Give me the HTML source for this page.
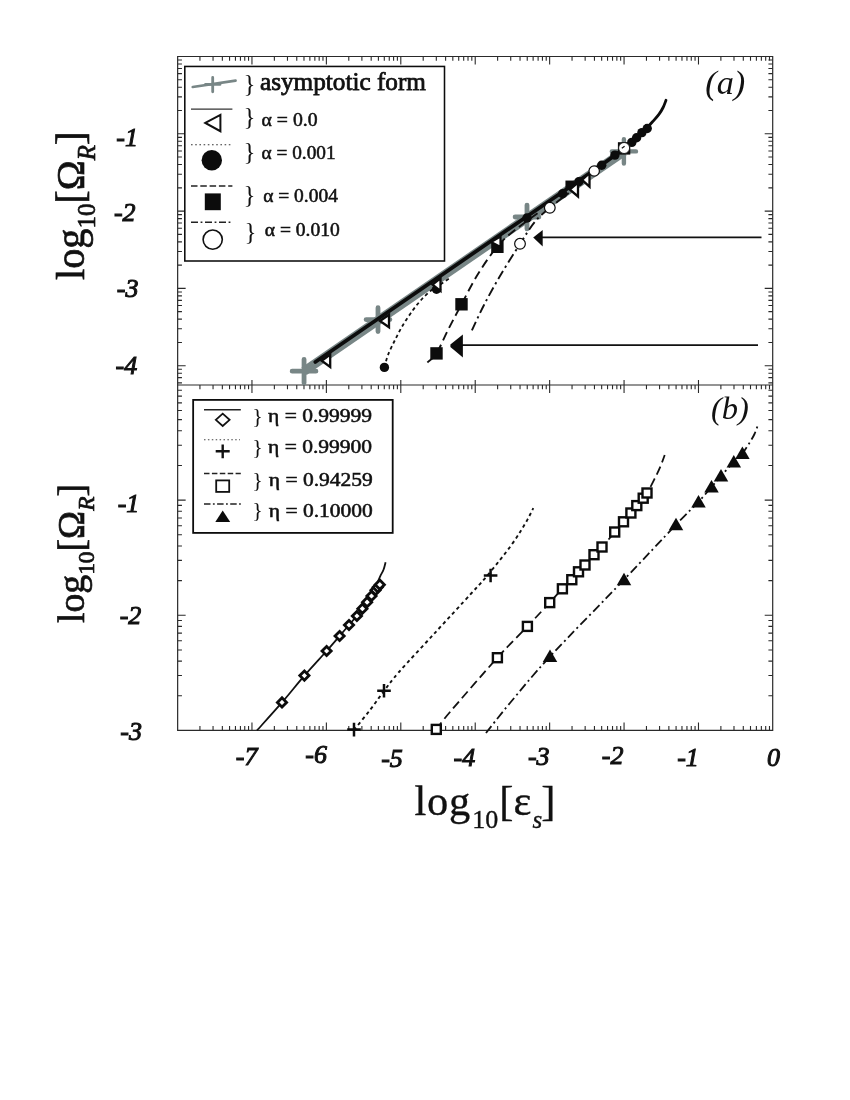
<!DOCTYPE html>
<html><head><meta charset="utf-8"><title>Figure</title>
<style>
html,body{margin:0;padding:0;background:#fff;}
body{width:850px;height:1100px;overflow:hidden;}
svg{display:block;}
svg text{filter:grayscale(1);}
svg text{font-family:"Liberation Serif",serif;fill:#111;}
</style></head><body>
<svg width="850" height="1100" viewBox="0 0 850 1100">
<rect x="0" y="0" width="850" height="1100" fill="#fff"/>
<path d="M199.94,56.50V60.80M199.94,385.00V389.30M199.94,730.40V726.10M213.05,56.50V60.80M213.05,385.00V389.30M213.05,730.40V726.10M222.35,56.50V60.80M222.35,385.00V389.30M222.35,730.40V726.10M229.56,56.50V60.80M229.56,385.00V389.30M229.56,730.40V726.10M235.45,56.50V60.80M235.45,385.00V389.30M235.45,730.40V726.10M240.43,56.50V60.80M240.43,385.00V389.30M240.43,730.40V726.10M244.75,56.50V60.80M244.75,385.00V389.30M244.75,730.40V726.10M248.55,56.50V60.80M248.55,385.00V389.30M248.55,730.40V726.10M251.96,56.50V64.50M251.96,380.00V393.00M251.96,730.40V722.40M274.36,56.50V60.80M274.36,385.00V389.30M274.36,730.40V726.10M287.47,56.50V60.80M287.47,385.00V389.30M287.47,730.40V726.10M296.77,56.50V60.80M296.77,385.00V389.30M296.77,730.40V726.10M303.98,56.50V60.80M303.98,385.00V389.30M303.98,730.40V726.10M309.87,56.50V60.80M309.87,385.00V389.30M309.87,730.40V726.10M314.85,56.50V60.80M314.85,385.00V389.30M314.85,730.40V726.10M319.17,56.50V60.80M319.17,385.00V389.30M319.17,730.40V726.10M322.97,56.50V60.80M322.97,385.00V389.30M322.97,730.40V726.10M326.38,56.50V64.50M326.38,380.00V393.00M326.38,730.40V722.40M348.78,56.50V60.80M348.78,385.00V389.30M348.78,730.40V726.10M361.89,56.50V60.80M361.89,385.00V389.30M361.89,730.40V726.10M371.19,56.50V60.80M371.19,385.00V389.30M371.19,730.40V726.10M378.40,56.50V60.80M378.40,385.00V389.30M378.40,730.40V726.10M384.29,56.50V60.80M384.29,385.00V389.30M384.29,730.40V726.10M389.27,56.50V60.80M389.27,385.00V389.30M389.27,730.40V726.10M393.59,56.50V60.80M393.59,385.00V389.30M393.59,730.40V726.10M397.39,56.50V60.80M397.39,385.00V389.30M397.39,730.40V726.10M400.80,56.50V64.50M400.80,380.00V393.00M400.80,730.40V722.40M423.20,56.50V60.80M423.20,385.00V389.30M423.20,730.40V726.10M436.31,56.50V60.80M436.31,385.00V389.30M436.31,730.40V726.10M445.61,56.50V60.80M445.61,385.00V389.30M445.61,730.40V726.10M452.82,56.50V60.80M452.82,385.00V389.30M452.82,730.40V726.10M458.71,56.50V60.80M458.71,385.00V389.30M458.71,730.40V726.10M463.69,56.50V60.80M463.69,385.00V389.30M463.69,730.40V726.10M468.01,56.50V60.80M468.01,385.00V389.30M468.01,730.40V726.10M471.81,56.50V60.80M471.81,385.00V389.30M471.81,730.40V726.10M475.22,56.50V64.50M475.22,380.00V393.00M475.22,730.40V722.40M497.62,56.50V60.80M497.62,385.00V389.30M497.62,730.40V726.10M510.73,56.50V60.80M510.73,385.00V389.30M510.73,730.40V726.10M520.03,56.50V60.80M520.03,385.00V389.30M520.03,730.40V726.10M527.24,56.50V60.80M527.24,385.00V389.30M527.24,730.40V726.10M533.13,56.50V60.80M533.13,385.00V389.30M533.13,730.40V726.10M538.11,56.50V60.80M538.11,385.00V389.30M538.11,730.40V726.10M542.43,56.50V60.80M542.43,385.00V389.30M542.43,730.40V726.10M546.23,56.50V60.80M546.23,385.00V389.30M546.23,730.40V726.10M549.64,56.50V64.50M549.64,380.00V393.00M549.64,730.40V722.40M572.04,56.50V60.80M572.04,385.00V389.30M572.04,730.40V726.10M585.15,56.50V60.80M585.15,385.00V389.30M585.15,730.40V726.10M594.45,56.50V60.80M594.45,385.00V389.30M594.45,730.40V726.10M601.66,56.50V60.80M601.66,385.00V389.30M601.66,730.40V726.10M607.55,56.50V60.80M607.55,385.00V389.30M607.55,730.40V726.10M612.53,56.50V60.80M612.53,385.00V389.30M612.53,730.40V726.10M616.85,56.50V60.80M616.85,385.00V389.30M616.85,730.40V726.10M620.65,56.50V60.80M620.65,385.00V389.30M620.65,730.40V726.10M624.06,56.50V64.50M624.06,380.00V393.00M624.06,730.40V722.40M646.46,56.50V60.80M646.46,385.00V389.30M646.46,730.40V726.10M659.57,56.50V60.80M659.57,385.00V389.30M659.57,730.40V726.10M668.87,56.50V60.80M668.87,385.00V389.30M668.87,730.40V726.10M676.08,56.50V60.80M676.08,385.00V389.30M676.08,730.40V726.10M681.97,56.50V60.80M681.97,385.00V389.30M681.97,730.40V726.10M686.95,56.50V60.80M686.95,385.00V389.30M686.95,730.40V726.10M691.27,56.50V60.80M691.27,385.00V389.30M691.27,730.40V726.10M695.07,56.50V60.80M695.07,385.00V389.30M695.07,730.40V726.10M698.48,56.50V64.50M698.48,380.00V393.00M698.48,730.40V722.40M720.88,56.50V60.80M720.88,385.00V389.30M720.88,730.40V726.10M733.99,56.50V60.80M733.99,385.00V389.30M733.99,730.40V726.10M743.29,56.50V60.80M743.29,385.00V389.30M743.29,730.40V726.10M750.50,56.50V60.80M750.50,385.00V389.30M750.50,730.40V726.10M756.39,56.50V60.80M756.39,385.00V389.30M756.39,730.40V726.10M761.37,56.50V60.80M761.37,385.00V389.30M761.37,730.40V726.10M765.69,56.50V60.80M765.69,385.00V389.30M765.69,730.40V726.10M769.49,56.50V60.80M769.49,385.00V389.30M769.49,730.40V726.10M177.65,382.85H181.95M772.70,382.85H768.40M177.65,377.67H181.95M772.70,377.67H768.40M177.65,373.19H181.95M772.70,373.19H768.40M177.65,369.24H181.95M772.70,369.24H768.40M177.65,365.70H185.65M772.70,365.70H764.70M177.65,342.43H181.95M772.70,342.43H768.40M177.65,328.82H181.95M772.70,328.82H768.40M177.65,319.16H181.95M772.70,319.16H768.40M177.65,311.67H181.95M772.70,311.67H768.40M177.65,305.55H181.95M772.70,305.55H768.40M177.65,300.37H181.95M772.70,300.37H768.40M177.65,295.89H181.95M772.70,295.89H768.40M177.65,291.94H181.95M772.70,291.94H768.40M177.65,288.40H185.65M772.70,288.40H764.70M177.65,265.13H181.95M772.70,265.13H768.40M177.65,251.52H181.95M772.70,251.52H768.40M177.65,241.86H181.95M772.70,241.86H768.40M177.65,234.37H181.95M772.70,234.37H768.40M177.65,228.25H181.95M772.70,228.25H768.40M177.65,223.07H181.95M772.70,223.07H768.40M177.65,218.59H181.95M772.70,218.59H768.40M177.65,214.64H181.95M772.70,214.64H768.40M177.65,211.10H185.65M772.70,211.10H764.70M177.65,187.83H181.95M772.70,187.83H768.40M177.65,174.22H181.95M772.70,174.22H768.40M177.65,164.56H181.95M772.70,164.56H768.40M177.65,157.07H181.95M772.70,157.07H768.40M177.65,150.95H181.95M772.70,150.95H768.40M177.65,145.77H181.95M772.70,145.77H768.40M177.65,141.29H181.95M772.70,141.29H768.40M177.65,137.34H181.95M772.70,137.34H768.40M177.65,133.80H185.65M772.70,133.80H764.70M177.65,110.53H181.95M772.70,110.53H768.40M177.65,96.92H181.95M772.70,96.92H768.40M177.65,87.26H181.95M772.70,87.26H768.40M177.65,79.77H181.95M772.70,79.77H768.40M177.65,73.65H181.95M772.70,73.65H768.40M177.65,68.47H181.95M772.70,68.47H768.40M177.65,63.99H181.95M772.70,63.99H768.40M177.65,60.04H181.95M772.70,60.04H768.40M177.65,695.74H181.95M772.70,695.74H768.40M177.65,675.47H181.95M772.70,675.47H768.40M177.65,661.08H181.95M772.70,661.08H768.40M177.65,649.93H181.95M772.70,649.93H768.40M177.65,640.81H181.95M772.70,640.81H768.40M177.65,633.10H181.95M772.70,633.10H768.40M177.65,626.42H181.95M772.70,626.42H768.40M177.65,620.53H181.95M772.70,620.53H768.40M177.65,615.27H185.65M772.70,615.27H764.70M177.65,580.61H181.95M772.70,580.61H768.40M177.65,560.33H181.95M772.70,560.33H768.40M177.65,545.95H181.95M772.70,545.95H768.40M177.65,534.79H181.95M772.70,534.79H768.40M177.65,525.68H181.95M772.70,525.68H768.40M177.65,517.97H181.95M772.70,517.97H768.40M177.65,511.29H181.95M772.70,511.29H768.40M177.65,505.40H181.95M772.70,505.40H768.40M177.65,500.13H185.65M772.70,500.13H764.70M177.65,465.47H181.95M772.70,465.47H768.40M177.65,445.20H181.95M772.70,445.20H768.40M177.65,430.82H181.95M772.70,430.82H768.40M177.65,419.66H181.95M772.70,419.66H768.40M177.65,410.54H181.95M772.70,410.54H768.40M177.65,402.83H181.95M772.70,402.83H768.40M177.65,396.16H181.95M772.70,396.16H768.40M177.65,390.27H181.95M772.70,390.27H768.40" stroke="#2a2a2a" stroke-width="1.1" fill="none"/>
<path d="M177.65,56.50H772.70V730.40H177.65Z M177.65,385.00H772.70" stroke="#2a2a2a" stroke-width="1.2" fill="none"/>
<path d="M304.05,371.20L623.90,151.64" stroke="#788686" stroke-width="9.2" fill="none"/>
<path d="M292.15,371.20H315.95M304.05,359.30V383.10" stroke="#788686" stroke-width="4.8" stroke-linecap="round" fill="none"/>
<path d="M366.10,319.60H389.90M378.00,307.70V331.50" stroke="#788686" stroke-width="4.8" stroke-linecap="round" fill="none"/>
<path d="M515.10,217.00H538.90M527.00,205.10V228.90" stroke="#788686" stroke-width="4.8" stroke-linecap="round" fill="none"/>
<path d="M611.80,151.40H636.00M623.90,139.30V163.50" stroke="#788686" stroke-width="4.4" stroke-linecap="round" fill="none"/>
<path d="M384.50,367.50 C385.08,365.42 386.25,359.58 388.00,355.00 C389.75,350.42 392.50,345.00 395.00,340.00 C397.50,335.00 400.00,330.00 403.00,325.00 C406.00,320.00 409.83,314.33 413.00,310.00 C416.17,305.67 419.00,302.25 422.00,299.00 C425.00,295.75 428.58,292.50 431.00,290.50 C433.42,288.50 433.33,289.08 436.50,287.00 C439.67,284.92 447.75,279.50 450.00,278.00" stroke="#111" stroke-width="1.8" stroke-dasharray="3.4,3.0" fill="none"/>
<path d="M427.40,362.50 C428.92,360.98 433.07,358.82 436.50,353.40 C439.93,347.98 443.83,338.18 448.00,330.00 C452.17,321.82 456.50,313.63 461.50,304.30 C466.50,294.97 472.02,283.65 478.00,274.00 C483.98,264.35 491.23,253.73 497.40,246.40 C503.57,239.07 507.90,235.82 515.00,230.00 C522.10,224.18 535.83,214.58 540.00,211.50" stroke="#111" stroke-width="1.9" stroke-dasharray="9,4.8" fill="none"/>
<path d="M471.90,330.40 C473.92,326.17 479.32,314.07 484.00,305.00 C488.68,295.93 494.00,286.18 500.00,276.00 C506.00,265.82 514.17,252.97 520.00,243.90 C525.83,234.83 530.07,227.58 535.00,221.60 C539.93,215.62 543.77,212.93 549.60,208.00 C555.43,203.07 566.60,194.67 570.00,192.00" stroke="#111" stroke-width="1.9" stroke-dasharray="9.5,3.8,2.2,3.8" fill="none"/>
<path d="M315.30,361.96 L601.70,164.92 L601.70,164.92 C603.90,163.31 611.17,158.09 614.90,155.30 C618.63,152.51 621.28,150.42 624.10,148.20 C626.92,145.98 629.72,143.72 631.80,142.00 C633.88,140.28 634.92,139.40 636.60,137.90 C638.28,136.40 640.13,134.72 641.90,133.00 C643.67,131.28 646.32,128.50 647.20,127.60" stroke="#0c0c0c" stroke-width="3.7" stroke-linecap="round" fill="none"/>
<path d="M641.90,133.00 C642.78,132.10 645.43,129.47 647.20,127.60 C648.97,125.73 650.55,124.00 652.50,121.80 C654.45,119.60 657.13,116.78 658.90,114.40 C660.67,112.02 661.92,109.85 663.10,107.50 C664.28,105.15 665.52,101.50 666.00,100.30" stroke="#0c0c0c" stroke-width="2.8" stroke-linecap="round" fill="none"/>
<rect x="430.30" y="347.20" width="12.40" height="12.40" fill="#0c0c0c"/>
<rect x="455.30" y="298.10" width="12.40" height="12.40" fill="#0c0c0c"/>
<rect x="491.20" y="240.60" width="12.40" height="12.40" fill="#0c0c0c"/>
<rect x="565.45" y="180.55" width="8.50" height="8.50" fill="#0c0c0c"/>
<rect x="617.90" y="142.20" width="12.40" height="12.40" fill="#0c0c0c"/>
<circle cx="384.40" cy="367.40" r="4.70" fill="#0c0c0c"/>
<circle cx="436.50" cy="289.20" r="4.70" fill="#0c0c0c"/>
<circle cx="527.00" cy="218.00" r="4.70" fill="#0c0c0c"/>
<circle cx="562.70" cy="193.70" r="4.70" fill="#0c0c0c"/>
<circle cx="578.80" cy="181.70" r="4.70" fill="#0c0c0c"/>
<circle cx="601.70" cy="165.20" r="4.70" fill="#0c0c0c"/>
<circle cx="614.90" cy="155.10" r="4.70" fill="#0c0c0c"/>
<circle cx="631.80" cy="142.40" r="4.70" fill="#0c0c0c"/>
<circle cx="636.60" cy="137.70" r="4.70" fill="#0c0c0c"/>
<circle cx="641.90" cy="132.60" r="4.70" fill="#0c0c0c"/>
<circle cx="647.20" cy="128.50" r="4.70" fill="#0c0c0c"/>
<path d="M321.70,360.80L330.20,354.60L330.20,367.00Z" fill="#fff" stroke="#0c0c0c" stroke-width="2.3" stroke-linejoin="miter"/>
<path d="M380.00,321.00L389.00,314.70L389.00,327.30Z" fill="#fff" stroke="#0c0c0c" stroke-width="2.3" stroke-linejoin="miter"/>
<path d="M432.50,284.60L440.50,278.40L440.50,290.80Z" fill="#fff" stroke="#0c0c0c" stroke-width="2.3" stroke-linejoin="miter"/>
<path d="M491.00,242.00L500.50,236.50L500.50,247.00Z" fill="#fff" stroke="#0c0c0c" stroke-width="2.2"/>
<path d="M569.70,189.50L578.00,182.50L578.00,196.50Z" fill="#fff" stroke="#0c0c0c" stroke-width="2.3" stroke-linejoin="miter"/>
<path d="M582.00,179.90L589.50,173.10L589.50,186.70Z" fill="#fff" stroke="#0c0c0c" stroke-width="2.3" stroke-linejoin="miter"/>
<circle cx="520.00" cy="243.80" r="5.35" fill="#fff" stroke="#0c0c0c" stroke-width="1.2"/>
<circle cx="549.80" cy="207.80" r="5.35" fill="#fff" stroke="#0c0c0c" stroke-width="1.2"/>
<circle cx="594.20" cy="171.00" r="5.20" fill="#fff" stroke="#0c0c0c" stroke-width="1.2"/>
<circle cx="624.1" cy="148" r="5.5" fill="#fff" stroke="#0c0c0c" stroke-width="0.9"/>
<path d="M621.8,148.3L624.6,146.3" stroke="#0c0c0c" stroke-width="1.2"/>
<path d="M542,237.3H761.5" stroke="#111" stroke-width="1.8"/>
<path d="M533.2,237.6L542.7,230V246.5Z" fill="#0c0c0c"/>
<path d="M462,345.1H758" stroke="#111" stroke-width="1.9"/>
<path d="M450.4,344.6V347L462.9,357.5V334.6Z" fill="#0c0c0c"/>
<rect x="184.8" y="66.45" width="259.7" height="194.55" fill="#fff" stroke="#0c0c0c" stroke-width="1.55"/>
<path d="M192.7,87L235.6,80.6" stroke="#788686" stroke-width="2.6" stroke-linecap="round"/>
<path d="M212.7,77.5V91.8M205.5,84.4H220" stroke="#788686" stroke-width="2.8" stroke-linecap="round"/>
<path d="M191,109.2H232.4" stroke="#333" stroke-width="1.2"/>
<path d="M205.3,122.9L220.4,114.8V131.2Z" fill="none" stroke="#111" stroke-width="2"/>
<path d="M191,144.8H231.5" stroke="#333" stroke-width="1.1" stroke-dasharray="1.6,2.6"/>
<circle cx="211.8" cy="160.3" r="10.2" fill="#0c0c0c"/>
<path d="M191,186H232.4" stroke="#222" stroke-width="1.6" stroke-dasharray="6.5,2.8"/>
<rect x="204.8" y="193.4" width="16" height="16.8" fill="#0c0c0c"/>
<path d="M191,222.3H232.4" stroke="#222" stroke-width="1.6" stroke-dasharray="7,2.6,1.8,2.6"/>
<circle cx="212.7" cy="239.6" r="9.6" fill="#fff" stroke="#111" stroke-width="1.6"/>
<text x="243.50" y="92.00" font-size="25.00" text-anchor="start"  fill="#444">}</text>
<text x="260.00" y="90.40" font-size="24.30" text-anchor="start"  stroke="#111" stroke-width="0.75" textLength="166" lengthAdjust="spacingAndGlyphs">asymptotic form</text>
<text x="243.50" y="124.60" font-size="25.00" text-anchor="start"  fill="#444">}</text>
<text x="261.60" y="125.80" font-size="18.00" text-anchor="start"  textLength="56" lengthAdjust="spacingAndGlyphs" stroke="#111" stroke-width="0.5">α = 0.0</text>
<text x="243.50" y="160.00" font-size="25.00" text-anchor="start"  fill="#444">}</text>
<text x="261.60" y="158.80" font-size="18.00" text-anchor="start"  textLength="74" lengthAdjust="spacingAndGlyphs" stroke="#111" stroke-width="0.5">α = 0.001</text>
<text x="243.50" y="203.00" font-size="25.00" text-anchor="start"  fill="#444">}</text>
<text x="263.20" y="201.80" font-size="18.00" text-anchor="start"  textLength="74.7" lengthAdjust="spacingAndGlyphs" stroke="#111" stroke-width="0.5">α = 0.004</text>
<text x="244.50" y="239.50" font-size="25.00" text-anchor="start"  fill="#444">}</text>
<text x="264.80" y="236.20" font-size="18.00" text-anchor="start"  textLength="75" lengthAdjust="spacingAndGlyphs" stroke="#111" stroke-width="0.5">α = 0.010</text>
<text x="705.30" y="94.20" font-size="33.00" text-anchor="start" font-style="italic" textLength="40" lengthAdjust="spacingAndGlyphs">(a)</text>
<text x="711.00" y="418.80" font-size="32.50" text-anchor="start" font-style="italic" >(b)</text>
<path d="M257.00,730.40 C261.17,725.73 274.10,711.53 282.00,702.40 C289.90,693.27 296.97,684.17 304.40,675.60 C311.83,667.03 320.73,657.60 326.60,651.00 C332.47,644.40 335.87,640.33 339.60,636.00 C343.33,631.67 346.20,628.27 349.00,625.00 C351.80,621.73 354.23,619.07 356.40,616.40 C358.57,613.73 360.32,611.30 362.00,609.00 C363.68,606.70 365.08,604.70 366.50,602.60 C367.92,600.50 369.25,598.42 370.50,596.40 C371.75,594.38 373.03,592.23 374.00,590.50 C374.97,588.77 375.60,587.58 376.30,586.00 C377.00,584.42 377.50,582.73 378.20,581.00 C378.90,579.27 379.62,577.47 380.50,575.60 C381.38,573.73 382.65,572.03 383.50,569.80 C384.35,567.57 385.25,563.47 385.60,562.20" stroke="#111" stroke-width="1.8" fill="none"/>
<path d="M354.00,730.00 C356.67,726.67 365.00,716.50 370.00,710.00 C375.00,703.50 379.17,697.33 384.00,691.00 C388.83,684.67 390.50,681.70 399.00,672.00 C407.50,662.30 422.97,645.88 435.00,632.80 C447.03,619.72 463.02,602.40 471.20,593.50 C479.38,584.60 479.40,584.88 484.10,579.40 C488.80,573.92 494.88,566.28 499.40,560.60 C503.92,554.92 507.67,550.20 511.20,545.30 C514.73,540.40 517.87,535.52 520.60,531.20 C523.33,526.88 525.83,522.53 527.60,519.40 C529.37,516.27 530.25,514.27 531.20,512.40 C532.15,510.53 532.95,508.90 533.30,508.20" stroke="#111" stroke-width="1.9" stroke-dasharray="3.4,3.2" fill="none"/>
<path d="M436.30,729.40 C438.58,726.50 439.82,723.95 450.00,712.00 C460.18,700.05 484.50,671.97 497.40,657.70 C510.30,643.43 518.68,635.58 527.40,626.40 C536.12,617.22 543.87,608.87 549.70,602.60 C555.53,596.33 556.52,595.07 562.40,588.80 C568.28,582.53 578.40,571.97 585.00,565.00 C591.60,558.03 595.58,554.20 602.00,547.00 C608.42,539.80 617.70,528.70 623.50,521.80 C629.30,514.90 632.88,510.40 636.80,505.60 C640.72,500.80 643.80,497.93 647.00,493.00 C650.20,488.07 653.67,480.67 656.00,476.00 C658.33,471.33 659.55,468.50 661.00,465.00 C662.45,461.50 664.08,456.67 664.70,455.00" stroke="#111" stroke-width="1.8" stroke-dasharray="9,4.5" fill="none"/>
<path d="M486.00,733.00 C490.00,728.00 499.33,715.75 510.00,703.00 C520.67,690.25 531.00,677.05 550.00,656.50 C569.00,635.95 603.00,601.67 624.00,579.70 C645.00,557.73 663.58,537.68 676.00,524.70 C688.42,511.72 692.58,508.08 698.50,501.80 C704.42,495.52 707.75,491.30 711.50,487.00 C715.25,482.70 717.28,480.17 721.00,476.00 C724.72,471.83 730.23,465.75 733.80,462.00 C737.37,458.25 739.70,456.83 742.40,453.50 C745.10,450.17 747.98,445.25 750.00,442.00 C752.02,438.75 753.17,436.88 754.50,434.00 C755.83,431.12 757.42,426.25 758.00,424.70" stroke="#111" stroke-width="1.8" stroke-dasharray="9,3.5,2,3.5" fill="none"/>
<path d="M277.40,702.40L282.00,697.80L286.60,702.40L282.00,707.00Z" fill="#fff" stroke="#0c0c0c" stroke-width="2.8"/>
<path d="M299.80,675.60L304.40,671.00L309.00,675.60L304.40,680.20Z" fill="#fff" stroke="#0c0c0c" stroke-width="2.8"/>
<path d="M322.00,651.00L326.60,646.40L331.20,651.00L326.60,655.60Z" fill="#fff" stroke="#0c0c0c" stroke-width="2.8"/>
<path d="M335.00,636.00L339.60,631.40L344.20,636.00L339.60,640.60Z" fill="#fff" stroke="#0c0c0c" stroke-width="2.8"/>
<path d="M344.40,625.00L349.00,620.40L353.60,625.00L349.00,629.60Z" fill="#fff" stroke="#0c0c0c" stroke-width="2.8"/>
<path d="M352.30,616.00L356.90,611.40L361.50,616.00L356.90,620.60Z" fill="#fff" stroke="#0c0c0c" stroke-width="2.8"/>
<path d="M357.80,608.70L362.40,604.10L367.00,608.70L362.40,613.30Z" fill="#fff" stroke="#0c0c0c" stroke-width="2.8"/>
<path d="M362.50,602.20L367.10,597.60L371.70,602.20L367.10,606.80Z" fill="#fff" stroke="#0c0c0c" stroke-width="2.8"/>
<path d="M366.90,596.00L371.50,591.40L376.10,596.00L371.50,600.60Z" fill="#fff" stroke="#0c0c0c" stroke-width="2.8"/>
<path d="M370.90,590.20L375.50,585.60L380.10,590.20L375.50,594.80Z" fill="#fff" stroke="#0c0c0c" stroke-width="2.8"/>
<path d="M373.10,587.30L377.70,582.70L382.30,587.30L377.70,591.90Z" fill="#fff" stroke="#0c0c0c" stroke-width="2.8"/>
<path d="M375.20,584.70L379.80,580.10L384.40,584.70L379.80,589.30Z" fill="#fff" stroke="#0c0c0c" stroke-width="2.8"/>
<path d="M347.20,729.60H360.80M354.00,722.80V736.40" stroke="#0c0c0c" stroke-width="2.5" fill="none"/>
<path d="M377.20,690.80H390.80M384.00,684.00V697.60" stroke="#0c0c0c" stroke-width="2.5" fill="none"/>
<path d="M483.80,575.50H497.40M490.60,568.70V582.30" stroke="#0c0c0c" stroke-width="2.5" fill="none"/>
<rect x="431.80" y="724.90" width="9.00" height="9.00" fill="#fff" stroke="#0c0c0c" stroke-width="2.4"/>
<rect x="492.90" y="653.20" width="9.00" height="9.00" fill="#fff" stroke="#0c0c0c" stroke-width="2.4"/>
<rect x="522.90" y="621.90" width="9.00" height="9.00" fill="#fff" stroke="#0c0c0c" stroke-width="2.4"/>
<rect x="545.20" y="598.10" width="9.00" height="9.00" fill="#fff" stroke="#0c0c0c" stroke-width="2.4"/>
<rect x="557.90" y="584.30" width="9.00" height="9.00" fill="#fff" stroke="#0c0c0c" stroke-width="2.4"/>
<rect x="567.30" y="575.20" width="9.00" height="9.00" fill="#fff" stroke="#0c0c0c" stroke-width="2.4"/>
<rect x="574.00" y="567.30" width="9.00" height="9.00" fill="#fff" stroke="#0c0c0c" stroke-width="2.4"/>
<rect x="580.50" y="560.50" width="9.00" height="9.00" fill="#fff" stroke="#0c0c0c" stroke-width="2.4"/>
<rect x="589.50" y="550.20" width="9.00" height="9.00" fill="#fff" stroke="#0c0c0c" stroke-width="2.4"/>
<rect x="597.50" y="542.50" width="9.00" height="9.00" fill="#fff" stroke="#0c0c0c" stroke-width="2.4"/>
<rect x="610.20" y="527.50" width="9.00" height="9.00" fill="#fff" stroke="#0c0c0c" stroke-width="2.4"/>
<rect x="619.00" y="517.30" width="9.00" height="9.00" fill="#fff" stroke="#0c0c0c" stroke-width="2.4"/>
<rect x="626.40" y="508.50" width="9.00" height="9.00" fill="#fff" stroke="#0c0c0c" stroke-width="2.4"/>
<rect x="632.30" y="501.10" width="9.00" height="9.00" fill="#fff" stroke="#0c0c0c" stroke-width="2.4"/>
<rect x="638.70" y="493.70" width="9.00" height="9.00" fill="#fff" stroke="#0c0c0c" stroke-width="2.4"/>
<rect x="642.50" y="488.50" width="9.00" height="9.00" fill="#fff" stroke="#0c0c0c" stroke-width="2.4"/>
<path d="M550.00,649.62L557.25,662.12L542.75,662.12Z" fill="#0c0c0c"/>
<path d="M624.00,572.83L631.25,585.33L616.75,585.33Z" fill="#0c0c0c"/>
<path d="M676.00,517.83L683.25,530.33L668.75,530.33Z" fill="#0c0c0c"/>
<path d="M698.50,494.93L705.75,507.43L691.25,507.43Z" fill="#0c0c0c"/>
<path d="M711.50,480.12L718.75,492.62L704.25,492.62Z" fill="#0c0c0c"/>
<path d="M721.00,469.12L728.25,481.62L713.75,481.62Z" fill="#0c0c0c"/>
<path d="M733.80,455.12L741.05,467.62L726.55,467.62Z" fill="#0c0c0c"/>
<path d="M742.40,446.62L749.65,459.12L735.15,459.12Z" fill="#0c0c0c"/>
<rect x="193.15" y="399.9" width="199.55" height="133" fill="#fff" stroke="#0c0c0c" stroke-width="1.8"/>
<path d="M204,409.8H240.8" stroke="#222" stroke-width="1.5"/>
<path d="M215.8,419.8L222.7,413.6L229.6,419.8L222.7,426Z" fill="#fff" stroke="#111" stroke-width="1.8"/>
<path d="M204,439.7H240" stroke="#444" stroke-width="1.1" stroke-dasharray="1.5,2.4"/>
<path d="M215.7,451.3H229.7M222.7,444.5V458.2" stroke="#111" stroke-width="2.4"/>
<path d="M204,473.6H240.8" stroke="#222" stroke-width="1.5" stroke-dasharray="5.5,2.4"/>
<rect x="216.2" y="480.4" width="13" height="11.5" fill="#fff" stroke="#111" stroke-width="1.8"/>
<path d="M204,503.9H240.8" stroke="#222" stroke-width="1.5" stroke-dasharray="6.5,2.4,1.8,2.4"/>
<path d="M222.7,510.5L230.2,522H215.3Z" fill="#0c0c0c"/>
<text x="252.20" y="422.50" font-size="22.00" text-anchor="start"  fill="#444">}</text>
<text x="268.10" y="422.30" font-size="19.50" text-anchor="start"  textLength="104" lengthAdjust="spacingAndGlyphs" stroke="#111" stroke-width="0.55">η = 0.99999</text>
<text x="252.20" y="453.60" font-size="22.00" text-anchor="start"  fill="#444">}</text>
<text x="268.10" y="453.40" font-size="19.50" text-anchor="start"  textLength="104" lengthAdjust="spacingAndGlyphs" stroke="#111" stroke-width="0.55">η = 0.99900</text>
<text x="252.20" y="486.50" font-size="22.00" text-anchor="start"  fill="#444">}</text>
<text x="268.80" y="486.30" font-size="19.50" text-anchor="start"  textLength="104" lengthAdjust="spacingAndGlyphs" stroke="#111" stroke-width="0.55">η = 0.94259</text>
<text x="252.20" y="517.00" font-size="22.00" text-anchor="start"  fill="#444">}</text>
<text x="268.80" y="516.80" font-size="19.50" text-anchor="start"  textLength="104" lengthAdjust="spacingAndGlyphs" stroke="#111" stroke-width="0.55">η = 0.10000</text>
<text x="138.00" y="146.40" font-size="26.00" text-anchor="end" font-style="italic" stroke="#111" stroke-width="1.0">-1</text>
<text x="135.60" y="221.30" font-size="26.00" text-anchor="end" font-style="italic" stroke="#111" stroke-width="1.0">-2</text>
<text x="138.50" y="296.50" font-size="26.00" text-anchor="end" font-style="italic" stroke="#111" stroke-width="1.0">-3</text>
<text x="137.20" y="373.90" font-size="26.00" text-anchor="end" font-style="italic" stroke="#111" stroke-width="1.0">-4</text>
<text x="139.30" y="511.90" font-size="26.00" text-anchor="end" font-style="italic" stroke="#111" stroke-width="1.0">-1</text>
<text x="141.30" y="623.90" font-size="26.00" text-anchor="end" font-style="italic" stroke="#111" stroke-width="1.0">-2</text>
<text x="142.00" y="740.00" font-size="26.00" text-anchor="end" font-style="italic" stroke="#111" stroke-width="1.0">-3</text>
<text x="257.50" y="764.60" font-size="26.00" text-anchor="end" font-style="italic" stroke="#111" stroke-width="1.0">-7</text>
<text x="327.00" y="763.30" font-size="26.00" text-anchor="end" font-style="italic" stroke="#111" stroke-width="1.0">-6</text>
<text x="402.80" y="767.20" font-size="26.00" text-anchor="end" font-style="italic" stroke="#111" stroke-width="1.0">-5</text>
<text x="475.20" y="766.10" font-size="26.00" text-anchor="end" font-style="italic" stroke="#111" stroke-width="1.0">-4</text>
<text x="549.60" y="765.00" font-size="26.00" text-anchor="end" font-style="italic" stroke="#111" stroke-width="1.0">-3</text>
<text x="623.50" y="763.60" font-size="26.00" text-anchor="end" font-style="italic" stroke="#111" stroke-width="1.0">-2</text>
<text x="698.80" y="766.00" font-size="26.00" text-anchor="end" font-style="italic" stroke="#111" stroke-width="1.0">-1</text>
<text x="780.00" y="766.00" font-size="26.00" text-anchor="end" font-style="italic" stroke="#111" stroke-width="1.0">0</text>
<g transform="translate(83.70,280.00) rotate(-90)"><text x="0" y="0" font-size="40.00" stroke="#111" stroke-width="0.7" textLength="148.3" lengthAdjust="spacingAndGlyphs">log<tspan font-size="24.80" dy="10.80">10</tspan><tspan dy="-10.80">[Ω</tspan><tspan font-size="24.80" font-style="italic" dy="10.80">R</tspan><tspan dy="-10.80">]</tspan></text></g>
<g transform="translate(83.70,623.00) rotate(-90)"><text x="0" y="0" font-size="37.50" stroke="#111" stroke-width="0.7" textLength="139.0" lengthAdjust="spacingAndGlyphs">log<tspan font-size="23.25" dy="10.12">10</tspan><tspan dy="-10.12">[Ω</tspan><tspan font-size="23.25" font-style="italic" dy="10.12">R</tspan><tspan dy="-10.12">]</tspan></text></g>
<text x="414.6" y="815.3" font-size="42.5" stroke="#111" stroke-width="0.35"><tspan letter-spacing="0.7">log</tspan><tspan font-size="26" dy="13" dx="1.2">10</tspan><tspan dy="-13" dx="1.1">[ε</tspan><tspan font-size="25" font-style="italic" dy="13" dx="1.1">s</tspan><tspan dy="-13" dx="-0.8">]</tspan></text>
</svg>
</body></html>
